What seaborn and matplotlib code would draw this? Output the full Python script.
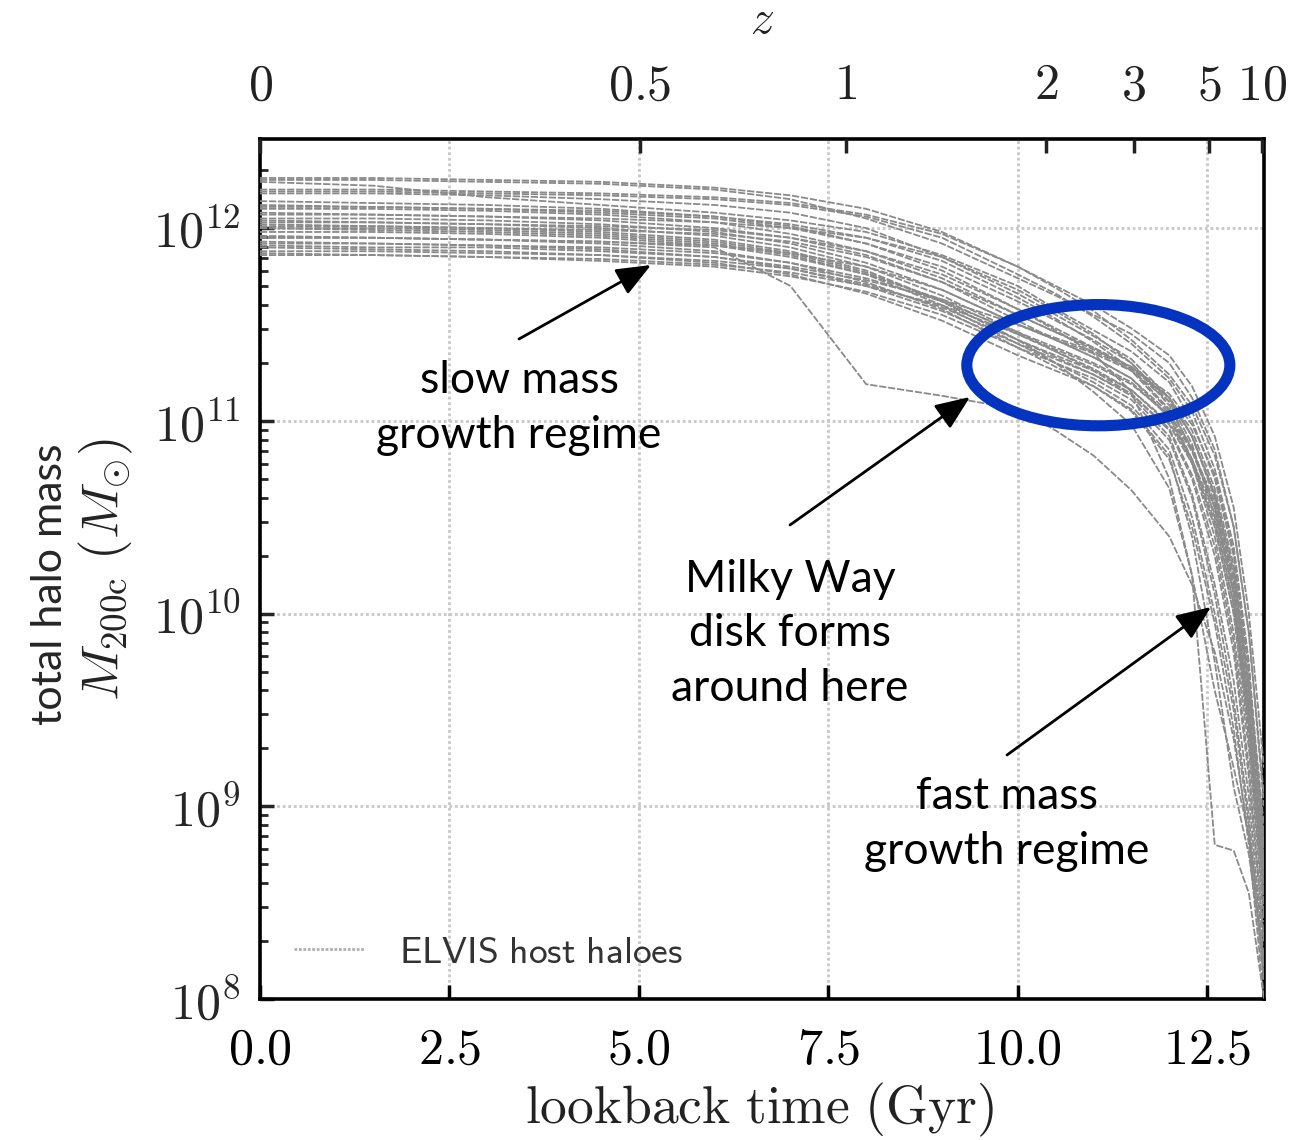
import numpy as np
import pandas as pd
import matplotlib
matplotlib.use("Agg")
import matplotlib.pyplot as plt
import seaborn as sns
from matplotlib.patches import Ellipse
from matplotlib.lines import Line2D
from matplotlib.ticker import FuncFormatter, LogLocator, NullFormatter

# ---------------- data ----------------
lookback_gyr = [0.0, 1.5, 3.0, 4.5, 6.0, 7.0, 8.0, 9.0, 10.0, 10.5, 11.0, 11.5,
                12.0, 12.3, 12.6, 12.85, 13.05, 13.25]

# log10 M200c of each host halo at the lookback times above
h01 = [12.26, 12.26, 12.25, 12.24, 12.21, 12.17, 12.10, 11.98, 11.80, 11.70, 11.60, 11.48, 11.34, 11.18, 10.92, 10.55, 10.00, 9.20]
h02 = [12.25, 12.25, 12.24, 12.23, 12.20, 12.15, 12.05, 11.92, 11.74, 11.65, 11.55, 11.45, 11.30, 11.12, 10.85, 10.45, 9.90, 9.00]
h03 = [12.24, 12.22, 12.16, 12.12, 12.08, 12.04, 11.98, 11.86, 11.70, 11.58, 11.47, 11.36, 11.20, 11.00, 10.70, 10.30, 9.70, 8.80]
h04 = [12.19, 12.19, 12.18, 12.17, 12.15, 12.12, 12.06, 11.95, 11.76, 11.66, 11.54, 11.40, 11.22, 11.05, 10.75, 10.35, 9.75, 8.70]
h05 = [12.18, 12.18, 12.17, 12.15, 12.12, 12.08, 12.00, 11.85, 11.66, 11.55, 11.44, 11.32, 11.12, 10.92, 10.60, 10.15, 9.55, 8.60]
h06 = [12.12, 12.11, 12.10, 12.08, 12.05, 12.00, 11.92, 11.80, 11.62, 11.52, 11.42, 11.30, 11.10, 10.88, 10.50, 10.05, 9.45, 8.50]
h07 = [12.10, 12.10, 12.09, 12.07, 12.03, 11.97, 11.88, 11.74, 11.55, 11.46, 11.38, 11.28, 11.12, 10.95, 10.65, 10.25, 9.65, 8.90]
h08 = [12.08, 12.07, 12.06, 12.04, 12.00, 11.95, 11.86, 11.72, 11.52, 11.42, 11.33, 11.22, 11.02, 10.78, 10.40, 9.90, 9.30, 8.40]
h09 = [12.07, 12.07, 12.06, 12.05, 12.03, 12.00, 11.95, 11.85, 11.68, 11.57, 11.45, 11.30, 11.08, 10.85, 10.55, 10.10, 9.45, 8.55]
h10 = [12.05, 12.05, 12.04, 12.02, 11.98, 11.92, 11.82, 11.68, 11.50, 11.42, 11.35, 11.26, 11.10, 10.92, 10.62, 10.20, 9.60, 8.75]
h11 = [12.04, 12.03, 12.02, 12.00, 11.96, 11.90, 11.80, 11.65, 11.46, 11.36, 11.26, 11.14, 10.95, 10.70, 10.30, 9.80, 9.15, 8.30]
h12 = [12.03, 12.03, 12.02, 12.01, 11.99, 11.95, 11.88, 11.76, 11.58, 11.48, 11.38, 11.26, 11.05, 10.80, 10.45, 10.00, 9.35, 8.45]
h13 = [12.02, 12.01, 12.00, 11.98, 11.94, 11.88, 11.78, 11.62, 11.42, 11.33, 11.24, 11.13, 10.92, 10.62, 10.15, 9.65, 9.05, 8.20]
h14 = [12.01, 12.01, 12.00, 11.99, 11.97, 11.93, 11.85, 11.72, 11.55, 11.46, 11.37, 11.28, 11.14, 10.98, 10.72, 10.32, 9.72, 8.85]
h15 = [12.00, 11.99, 11.98, 11.96, 11.92, 11.86, 11.76, 11.60, 11.40, 11.30, 11.20, 11.08, 10.85, 10.50, 10.00, 9.50, 8.90, 8.10]
h16 = [11.98, 11.98, 11.97, 11.95, 11.91, 11.85, 11.76, 11.63, 11.45, 11.36, 11.27, 11.16, 10.98, 10.78, 10.45, 10.00, 9.40, 8.50]
h17 = [11.96, 11.95, 11.94, 11.92, 11.88, 11.82, 11.72, 11.58, 11.38, 11.28, 11.18, 11.05, 10.80, 10.45, 9.95, 9.40, 8.80, 8.00]
h18 = [11.95, 11.95, 11.94, 11.93, 11.91, 11.87, 11.80, 11.68, 11.50, 11.42, 11.33, 11.22, 11.04, 10.84, 10.55, 10.12, 9.50, 8.60]
h19 = [11.93, 11.92, 11.91, 11.89, 11.85, 11.79, 11.70, 11.57, 11.40, 11.32, 11.24, 11.14, 10.96, 10.72, 10.35, 9.85, 9.20, 8.30]
h20 = [11.92, 11.92, 11.91, 11.90, 11.87, 11.82, 11.74, 11.62, 11.46, 11.38, 11.30, 11.20, 11.02, 10.80, 10.48, 10.05, 9.42, 8.55]
h21 = [11.90, 11.89, 11.88, 11.86, 11.82, 11.76, 11.66, 11.52, 11.34, 11.26, 11.18, 11.06, 10.82, 10.40, 9.75, 9.10, 8.75, 8.20]
h22 = [11.88, 11.88, 11.87, 11.86, 11.83, 11.79, 11.71, 11.59, 11.42, 11.34, 11.26, 11.16, 10.99, 10.80, 10.52, 10.10, 9.50, 8.65]
h23 = [11.87, 11.86, 11.85, 11.83, 11.80, 11.75, 11.67, 11.55, 11.38, 11.30, 11.22, 11.11, 10.90, 10.60, 10.10, 9.55, 8.95, 8.15]
h24 = [11.86, 11.86, 11.85, 11.84, 11.81, 11.77, 11.70, 11.60, 11.45, 11.37, 11.29, 11.19, 11.03, 10.85, 10.58, 10.18, 9.58, 8.70]
h25 = [11.95, 11.95, 11.94, 11.93, 11.90, 11.70, 11.19, 11.13, 11.06, 10.95, 10.82, 10.64, 10.40, 10.15, 9.80, 9.35, 8.85, 8.10]
h26 = [12.00, 12.00, 11.99, 11.97, 11.93, 11.87, 11.77, 11.62, 11.42, 11.30, 11.15, 10.98, 10.65, 10.20, 8.80, 8.77, 8.55, 8.00]
h27 = [12.14, 12.13, 12.12, 12.10, 12.06, 12.01, 11.92, 11.78, 11.58, 11.47, 11.35, 11.15, 10.70, 10.20, 9.60, 9.20, 8.85, 8.30]
h28 = [12.20, 12.20, 12.19, 12.18, 12.16, 12.13, 12.07, 11.97, 11.80, 11.69, 11.57, 11.42, 11.24, 11.08, 10.82, 10.45, 9.90, 9.05]
h29 = [11.91, 11.90, 11.90, 11.88, 11.85, 11.80, 11.73, 11.63, 11.50, 11.43, 11.36, 11.27, 11.12, 10.92, 10.62, 10.22, 9.62, 8.80]
h30 = [12.11, 12.11, 12.10, 12.09, 12.06, 12.02, 11.95, 11.83, 11.64, 11.53, 11.41, 11.27, 11.06, 10.86, 10.56, 10.14, 9.52, 8.60]

halos = [h01, h02, h03, h04, h05, h06, h07, h08, h09, h10, h11, h12, h13, h14, h15,
         h16, h17, h18, h19, h20, h21, h22, h23, h24, h25, h26, h27, h28, h29, h30]

x_ticks = [0.0, 2.5, 5.0, 7.5, 10.0, 12.5]
z_labels = ["0", "0.5", "1", "2", "3", "5", "10"]
z_lookback = [0.0, 5.01, 7.73, 10.37, 11.53, 12.53, 13.22]

rows = []
for i, h in enumerate(halos):
    for t, lm in zip(lookback_gyr, h):
        rows.append({"halo": i, "t": t, "M": 10 ** lm})
df = pd.DataFrame(rows)

# ---------------- style ----------------
sns.set_style("ticks")
plt.rcParams["mathtext.fontset"] = "cm"
plt.rcParams["font.family"] = ["Lato", "DejaVu Sans"]

W, H = 1293, 1140
fig = plt.figure(figsize=(W / 100, H / 100), dpi=100)
ax = fig.add_axes([260 / W, 1 - 999 / H, (1264 - 260) / W, (999 - 139) / H])

line_col = "#8a8a8a"
sns.lineplot(data=df, x="t", y="M", units="halo", estimator=None, ax=ax,
             color=line_col, lw=1.3, linestyle=(0, (4, 1)), legend=False, zorder=3)

ax.set_yscale("log")
ax.set_xlim(0, 13.25)
ax.set_ylim(1e8, 2.9e12)
ax.set_xlabel("")
ax.set_ylabel("")

ax.set_xticks(x_ticks)
ax.xaxis.set_major_formatter(FuncFormatter(lambda v, p: r"$%.1f$" % v))
ax.yaxis.set_major_locator(LogLocator(base=10, numticks=20))
ax.yaxis.set_minor_locator(LogLocator(base=10, subs=np.arange(2, 10), numticks=100))
ax.yaxis.set_major_formatter(FuncFormatter(lambda v, p: r"$10^{%d}$" % round(np.log10(v))))
ax.yaxis.set_minor_formatter(NullFormatter())

ax.grid(True, which="major", axis="both", color="#c8c8c8", lw=2.0, ls=(0, (1, 1)), zorder=0)
ax.tick_params(axis="x", which="major", direction="in", length=10, width=2.5,
               labelsize=36, pad=20, top=False, colors="black")
ax.tick_params(axis="y", which="major", direction="in", length=10, width=2.5,
               labelsize=36, pad=14, right=False)
ax.tick_params(axis="y", which="minor", direction="in", length=6, width=2.0, right=False)
for s in ax.spines.values():
    s.set_linewidth(2.6)
    s.set_color("black")

# top redshift axis
ax2 = ax.twiny()
ax2.set_xlim(ax.get_xlim())
ax2.set_xticks(z_lookback)
ax2.set_xticklabels([r"$%s$" % z for z in z_labels])
ax2.tick_params(axis="x", direction="in", length=10, width=2.5, labelsize=36, pad=22,
                colors="#222222")
for s in ax2.spines.values():
    s.set_visible(False)

# legend
handle = Line2D([], [], color="#b0b0b0", lw=2.0, ls=(0, (1, 0.6)))
leg = ax.legend([handle], [r"$\mathsf{ELVIS\ host\ haloes}$"], loc="lower left",
                bbox_to_anchor=(0.0, -0.005), frameon=False, fontsize=27,
                handlelength=1.9, handletextpad=0.9)
for txt in leg.get_texts():
    txt.set_color("#333333")

# ellipse highlight
ax.add_patch(Ellipse((0.835, 0.737), 0.262, 0.141, transform=ax.transAxes, fill=False,
                     ec="#0433BF", lw=8, zorder=6, clip_on=False))

# annotations (figure pixel coordinates)
def arrow(tail, head):
    ax.annotate("", xy=(head[0], H - head[1]), xycoords="figure pixels",
                xytext=(tail[0], H - tail[1]), textcoords="figure pixels",
                arrowprops=dict(arrowstyle="-|>,head_length=0.85,head_width=0.35",
                                color="black", lw=2.0, mutation_scale=25,
                                shrinkA=0, shrinkB=0), zorder=7)

arrow((519, 339), (651, 265))
arrow((790, 525), (970, 397))
arrow((1007, 755), (1211, 607))

tfont = dict(fontsize=32, family=["Lato", "DejaVu Sans"], ha="center", va="center",
             linespacing=1.42, color="black")
fig.text(519 / W, 1 - 408 / H, "slow mass\ngrowth regime", **tfont)
fig.text(790 / W, 1 - 634 / H, "Milky Way\ndisk forms\naround here", **tfont)
fig.text(1007 / W, 1 - 824 / H, "fast mass\ngrowth regime", **tfont)

# axis labels
fig.text(50 / W, 1 - 584 / H, "total halo mass", rotation=90, ha="center", va="center",
         fontsize=31, family=["Lato", "DejaVu Sans"])
fig.text(106 / W, 1 - 570 / H, r"$M_{200\mathrm{c}}\ (M_{\odot})$", rotation=90,
         ha="center", va="center", fontsize=38, color="#222222")
fig.text(760 / W, 1 - 1110 / H, r"$\mathrm{lookback\ time\ (Gyr)}$", ha="center",
         va="center", fontsize=38.5, color="#222222")
fig.text(762 / W, 1 - 20 / H, r"$z$", ha="center", va="center", fontsize=34,
         color="#222222")

fig.savefig("out.png", dpi=100)
